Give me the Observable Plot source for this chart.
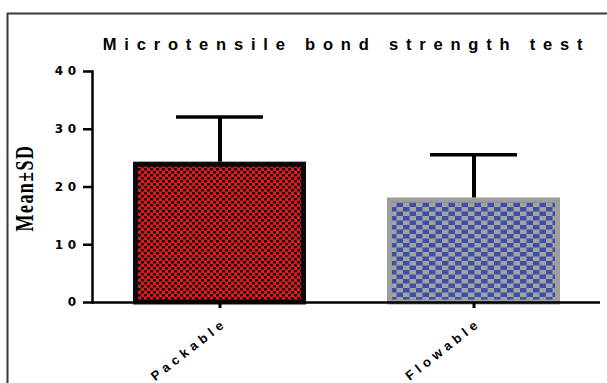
<!DOCTYPE html>
<html><head><meta charset="utf-8">
<script src="https://cdn.jsdelivr.net/npm/d3@7"></script>
<script src="https://cdn.jsdelivr.net/npm/@observablehq/plot@0.6"></script>
<style>
html,body{margin:0;padding:0;background:#fff;}
#chart svg{display:block;}
</style></head><body>
<div id="chart"></div>
<script>
const categories = ["Packable", "Flowable"];
const means = [24.3, 18.1];
const sds = [7.8, 7.5];
const yTicks = [0, 10, 20, 30, 40];
const title = "Microtensile bond strength test";
const yLabel = "Mean±SD";

const data = categories.map((c, i) => ({group: c, mean: means[i], sd: sds[i], top: means[i] + sds[i]}));

const plot = Plot.plot({
  width: 607, height: 383,
  marginLeft: 92, marginRight: 7, marginTop: 71, marginBottom: 81,
  style: {background: "transparent", overflow: "visible"},
  x: {domain: categories, paddingInner: 0.32, paddingOuter: 0.16, label: null},
  y: {domain: [0, 40], ticks: yTicks, label: null},
  marks: [
    Plot.barY(data.filter(d => d.group === "Packable"), {x: "group", y: "mean", fill: "url(#pRed)", stroke: "#0a0a0a", strokeWidth: 5, insetLeft: 2.5, insetRight: 2.5, insetTop: 2.5}),
    Plot.barY(data.filter(d => d.group === "Flowable"), {x: "group", y: "mean", fill: "url(#pBlue)", stroke: "#9d9d9d", strokeWidth: 5, insetLeft: 2.5, insetRight: 2.5, insetTop: 2.5}),
    Plot.ruleX(data, {x: "group", y1: "mean", y2: "top", stroke: "#000", strokeWidth: 4}),
    Plot.tickY(data, {x: "group", y: "top", stroke: "#000", strokeWidth: 3.5, insetLeft: 43, insetRight: 43}),
    Plot.ruleY([0], {stroke: "#000", strokeWidth: 2.5}),
    Plot.frame({anchor: "left", stroke: "#000", strokeWidth: 2.5}),
    Plot.axisY({ticks: yTicks, tickSize: 9, tickPadding: 3, strokeWidth: 2.5, fontSize: 12, fontWeight: "bold", fontFamily: "DejaVu Sans", label: null}),
    Plot.axisX({tickSize: 6, strokeWidth: 3, tickFormat: () => "", label: null}),
    Plot.text(data, {x: "group", text: "group", frameAnchor: "bottom", rotate: -38, textAnchor: "end", dx: 8, dy: 22, fontSize: 13, fontWeight: "bold", fontFamily: "Liberation Sans"}),
    Plot.text([title], {frameAnchor: "top", dy: -33, fontSize: 16.5, fontWeight: "bold", fontFamily: "Liberation Sans"})
  ]
});

const svg = d3.select(plot);
const defs = svg.insert("defs", ":first-child");
const pr = defs.append("pattern").attr("id", "pRed").attr("patternUnits", "userSpaceOnUse").attr("width", 6).attr("height", 6);
pr.append("rect").attr("width", 6).attr("height", 6).attr("fill", "#e3161b");
pr.append("rect").attr("x", 0).attr("y", 0).attr("width", 3).attr("height", 2.5).attr("fill", "#111");
pr.append("rect").attr("x", 3).attr("y", 3).attr("width", 3).attr("height", 2.5).attr("fill", "#111");
const pb = defs.append("pattern").attr("id", "pBlue").attr("patternUnits", "userSpaceOnUse").attr("width", 13).attr("height", 9);
pb.append("rect").attr("width", 13).attr("height", 9).attr("fill", "#a2a2a2");
pb.append("rect").attr("x", 0).attr("y", 0).attr("width", 6.5).attr("height", 4.5).attr("fill", "#3b50a6");
pb.append("rect").attr("x", 6.5).attr("y", 4.5).attr("width", 6.5).attr("height", 4.5).attr("fill", "#3b50a6");

svg.insert("path", "defs + *").attr("d", "M7.5,383V13.5H607").attr("fill", "none").attr("stroke", "#3a3a3a").attr("stroke-width", 2);

// letter spacing to match the reference's spaced-out lettering
svg.selectAll("text").each(function() {
  const t = this.textContent;
  if (t === title) this.setAttribute("letter-spacing", "7.8px");
  else if (categories.includes(t)) this.setAttribute("letter-spacing", "4.5px");
  else if (yTicks.map(String).includes(t)) this.setAttribute("letter-spacing", "4.5px");
});

svg.append("text")
  .attr("transform", "translate(33,188) rotate(-90) scale(0.72,1)")
  .attr("text-anchor", "middle")
  .attr("font-family", "Liberation Serif")
  .attr("font-size", 25)
  .attr("font-weight", "bold")
  .attr("letter-spacing", "2px")
  .attr("fill", "#000")
  .text(yLabel);

document.getElementById("chart").appendChild(plot);
</script>
</body></html>
